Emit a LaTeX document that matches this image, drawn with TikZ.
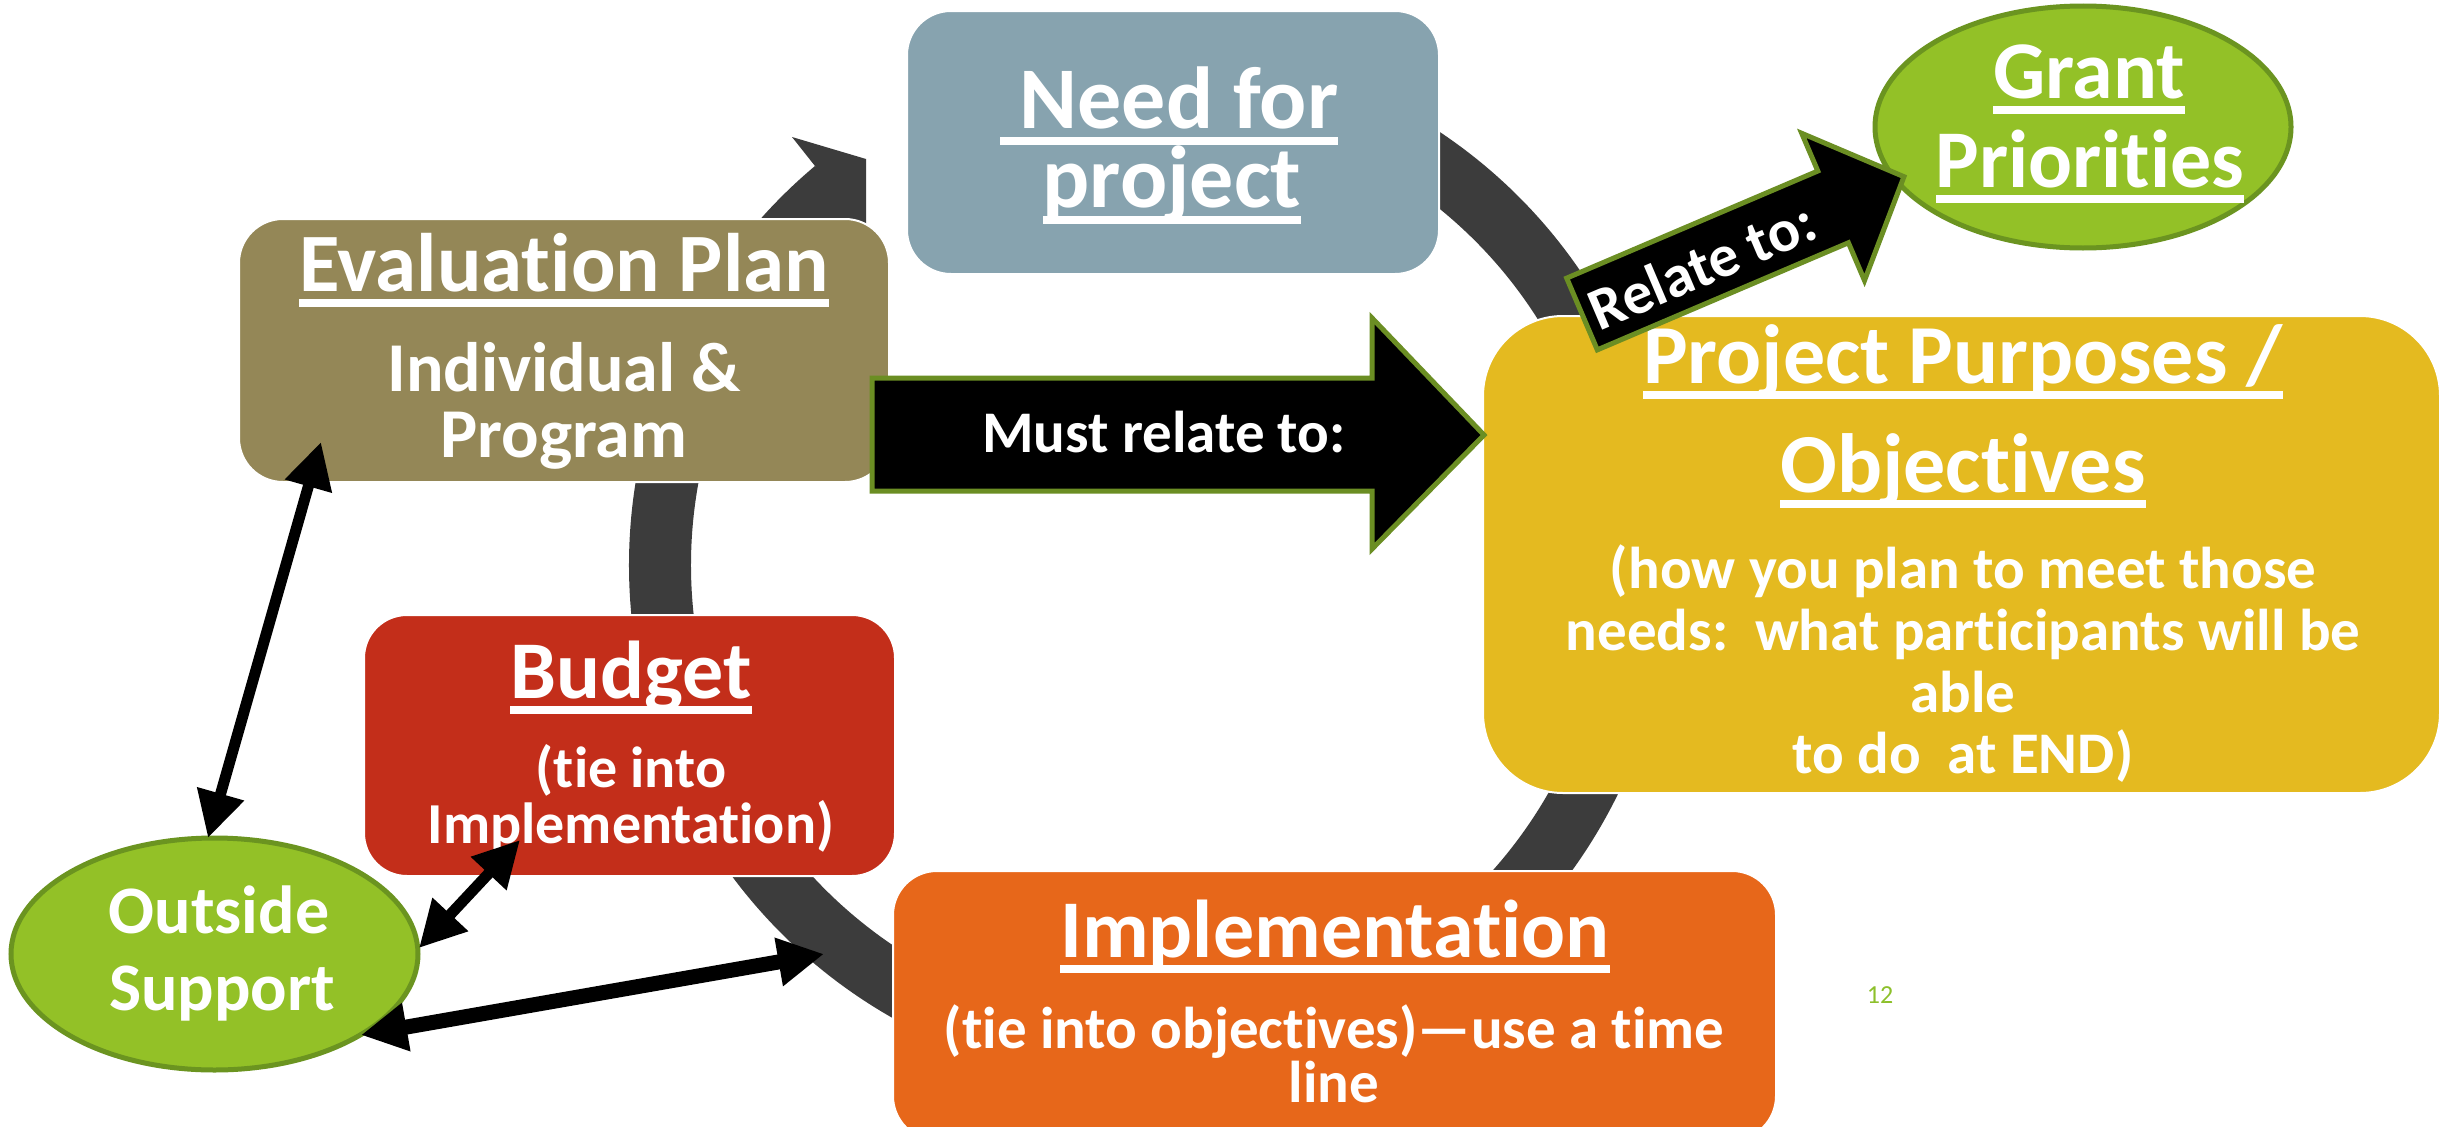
\documentclass[tikz,border=0pt]{standalone}
\usepackage{fontspec}
\setmainfont{Carlito}[Ligatures=NoCommon]
\usetikzlibrary{arrows.meta,shapes.geometric}
\definecolor{needc}{HTML}{87A3AF}
\definecolor{evalc}{HTML}{948757}
\definecolor{budgc}{HTML}{C32E1A}
\definecolor{implc}{HTML}{E7671A}
\definecolor{projc}{HTML}{E4BA20}
\definecolor{greenc}{HTML}{93C127}
\definecolor{greenb}{HTML}{6B9420}
\definecolor{arrowb}{HTML}{6B8E23}
\definecolor{ringc}{HTML}{3C3C3C}
\definecolor{numc}{HTML}{8DC02B}
\newcommand\fs[1]{\fontsize{#1}{#1}\selectfont\bfseries}
\newcommand\myul[1]{\setbox0=\hbox{#1}\rlap{\smash{\vrule width \wd0 height -0.1em depth 0.19em}}\box0}
\tikzset{
  box/.style={draw=white, line width=2, inner sep=0},
  blob/.style={ellipse, draw=greenb, line width=5, fill=greenc, inner sep=0},
  txt/.style={text=white, inner sep=0, anchor=base},
  ringline/.style={draw=ringc, line width=62},
  blockarrow/.style={fill=black, draw=arrowb, line width=5, line join=miter},
  link/.style={draw=black, line width=11, {Triangle[length=46pt,width=46pt]}-{Triangle[length=46pt,width=46pt]}}
}
\begin{document}
\begin{tikzpicture}[x=1pt,y=-1pt]
\clip (0,0) rectangle (2453,1127);
\fill[white] (0,0) rectangle (2453,1127);

% cycle ring
\coordinate (ringc) at (1150,565);
\draw[ringline] (ringc) ++(250:490) arc[start angle=250, end angle=590, radius=490];
\fill[ringc] (815,166) -- (792,137) -- (866,159) -- (866,228) -- (855,228) -- cycle;

% boxes
\node[box, fill=needc, minimum width=532, minimum height=263, rounded corners=44] (need) at (1173,142.5) {};
\node[box, fill=evalc, minimum width=650, minimum height=263, rounded corners=44] (eval) at (564,350.5) {};
\node[box, fill=budgc, minimum width=531, minimum height=261, rounded corners=43] (budget) at (629.5,745.5) {};
\node[box, fill=implc, minimum width=883, minimum height=269, rounded corners=44] (impl) at (1334.5,1005.5) {};
\node[box, fill=projc, minimum width=957, minimum height=477, rounded corners=80] (proj) at (1961.5,554.5) {};
\node[blob, minimum width=416, minimum height=242] (grant) at (2083,127) {};
\node[blob, minimum width=407, minimum height=232] (outside) at (214.5,954) {};

% texts
\node[txt] (needA) at (1169,128) {\fs{88}\myul{\ Need for}};
\node[txt] (needB) at (1172,207) {\fs{88}\myul{project}};
\node[txt] (evalA) at (564,291) {\fs{83}\myul{Evaluation Plan}};
\node[txt] (evalB) at (564,391) {\fs{70}Individual \&};
\node[txt] (evalC) at (564,457) {\fs{70}Program};
\node[txt] (budA) at (631,698) {\fs{82}\myul{Budget}};
\node[txt] (budB) at (631,787) {\fs{58}(tie into};
\node[txt] (budC) at (631,843) {\fs{58}Implementation)};
\node[txt] (implA) at (1335,957) {\fs{82}\myul{Implementation}};
\node[txt] (implB) at (1334,1048) {\fs{59}(tie into objectives)—use a time};
\node[txt] (implC) at (1334,1102) {\fs{59}line};
\node[txt] (projA) at (1963,383) {\fs{84}\myul{Project Purposes /}};
\node[txt] (projB) at (1963,492) {\fs{84}\myul{Objectives}};
\node[txt] (projC) at (1963,588) {\fs{59}(how you plan to meet those};
\node[txt] (projD) at (1963,650) {\fs{59}needs:\ \ what participants will be};
\node[txt] (projE) at (1963,712) {\fs{59}able};
\node[txt] (projF) at (1963,773) {\fs{59}to do\ \ at END)};
\node[txt] (grantA) at (2089,98) {\fs{82}\myul{Grant}};
\node[txt] (grantB) at (2090,187) {\fs{82}\myul{Priorities}};
\node[txt] (outA) at (219,933) {\fs{68}Outside};
\node[txt] (outB) at (222,1010) {\fs{68}Support};

% block arrow: must relate to
\draw[blockarrow] (872,378) -- (1372,378) -- (1372,318) -- (1484,435) -- (1372,549) -- (1372,491) -- (872,491) -- cycle;
\node[txt] (must) at (1164,452) {\fs{59}Must relate to:};

% block arrow: relate to
\begin{scope}[shift={(1582,314)}, rotate=23.1]
\draw[blockarrow] (0,-39) -- (273,-39) -- (273,-80) -- (350,0) -- (273,80) -- (273,39) -- (0,39) -- cycle;
\end{scope}
\node[text=white, inner sep=0, rotate=23.1] (relate) at (1702,265) {\fs{60}Relate to:};

% double-headed links to outside support
\coordinate (eA) at (321,442);
\coordinate (oA) at (208,838);
\coordinate (bA) at (520,840);
\coordinate (oB) at (419,948);
\coordinate (iA) at (824,954);
\coordinate (oC) at (361,1035);
\draw[link] (eA) -- (oA);
\draw[link] (bA) -- (oB);
\draw[link, line width=15] (iA) -- (oC);

% page number
\node[inner sep=0, anchor=base, text=numc] (num) at (1880,1003) {\fontsize{26}{26}\selectfont 12};
\end{tikzpicture}
\end{document}
